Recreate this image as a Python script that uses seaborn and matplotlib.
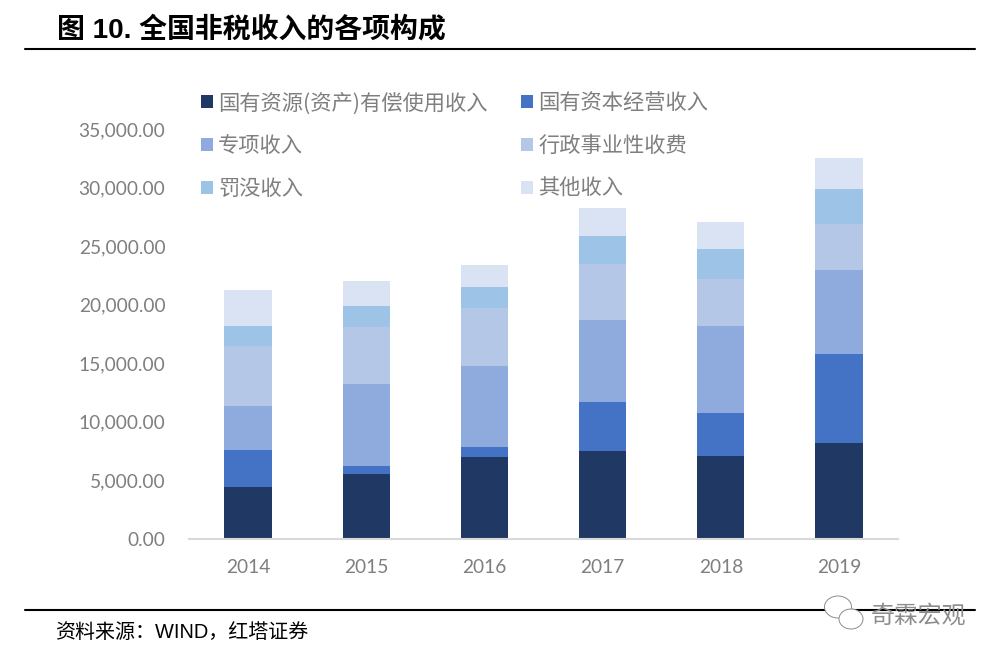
import matplotlib
matplotlib.use("Agg")
import matplotlib.pyplot as plt
import seaborn as sns
import pandas as pd
from matplotlib.lines import Line2D
from matplotlib.patches import Patch, Ellipse

years = ["2014", "2015", "2016", "2017", "2018", "2019"]
series_names = ["国有资源(资产)有偿使用收入", "国有资本经营收入", "专项收入", "行政事业性收费", "罚没收入", "其他收入"]
state_resources = [4360, 5510, 6970, 7480, 7050, 8160]
state_capital = [3200, 690, 850, 4190, 3680, 7610]
special = [3760, 7000, 6920, 7010, 7430, 7180]
admin_fees = [5130, 4880, 4960, 4780, 4020, 3930]
fines = [1710, 1790, 1800, 2390, 2560, 2990]
other = [3080, 2130, 1880, 2400, 2310, 2650]
series_values = [state_resources, state_capital, special, admin_fees, fines, other]
colors = ["#1F3864", "#4472C4", "#8FAADC", "#B4C7E7", "#9DC3E6", "#DAE3F3"]

W, H = 998, 659
sns.set_theme(style="white")
plt.rcParams["font.family"] = ["Noto Sans CJK SC", "DejaVu Sans"]
GREY = "#7F7F7F"

fig = plt.figure(figsize=(W / 100, H / 100), dpi=100)
ax = fig.add_axes([189 / W, 1 - 538.5 / H, (898 - 189) / W, (538.5 - 129) / H])

df = pd.DataFrame({"year": years})
bottom = [0] * len(years)
for name, vals, col in zip(series_names, series_values, colors):
    df[name] = vals
    sns.barplot(data=df, x="year", y=name, color=col, width=0.4, bottom=bottom,
                saturation=1, ax=ax, linewidth=0)
    bottom = [b + v for b, v in zip(bottom, vals)]

ax.set_xlim(-0.5, 5.5)
ax.set_ylim(0, 35000)
ax.set_yticks(range(0, 35001, 5000))
ax.set_yticklabels([f"{v:,.2f}" for v in range(0, 35001, 5000)])
ax.set_xlabel("")
ax.set_ylabel("")
for s in ["top", "left", "right"]:
    ax.spines[s].set_visible(False)
ax.spines["bottom"].set_color("#D9D9D9")
ax.spines["bottom"].set_linewidth(1.5)
ax.grid(False)
ax.tick_params(axis="both", length=0, labelsize=13.8, labelcolor=GREY)
ax.tick_params(axis="x", pad=15)
ax.tick_params(axis="y", pad=17)
for lab in ax.get_xticklabels() + ax.get_yticklabels():
    lab.set_fontfamily(["Lato", "DejaVu Sans"])

# legend: two columns, reading left to right
order = [0, 2, 4, 1, 3, 5]
handles = [Patch(facecolor=colors[i], edgecolor="none") for i in order]
labels = [series_names[i] for i in order]
leg = fig.legend(handles, labels, ncol=2, frameon=False, fontsize=15.3,
                 loc="upper left", bbox_to_anchor=(201 / W, 1 - 92 / H),
                 handlelength=0.55, handleheight=0.55, handletextpad=0.25,
                 columnspacing=1.58, labelspacing=0.98, labelcolor=GREY,
                 borderpad=0, borderaxespad=0)

# header, footer, rules
fonts = ["Liberation Sans", "Noto Sans CJK SC"]
fig.text(57 / W, 1 - 30 / H, "图 10. 全国非税收入的各项构成", family=fonts, fontweight="bold",
         fontsize=20.1, color="black", va="center", ha="left")
fig.add_artist(Line2D([25 / W, 975 / W], [1 - 49 / H] * 2, color="black", lw=1.5))
fig.add_artist(Line2D([25 / W, 975 / W], [1 - 610 / H] * 2, color="black", lw=1.5))
fig.text(55 / W, 1 - 632.5 / H, "资料来源：WIND，红塔证券", family=fonts,
         fontsize=14.4, color="black", va="center", ha="left")

# watermark
for cx, cy, w, h in [(838, 607, 27, 22), (851, 619, 24, 20)]:
    fig.add_artist(Ellipse((cx / W, 1 - cy / H), w / W, h / H, transform=fig.transFigure,
                           facecolor="white", edgecolor="#8C8C8C", lw=0.7, zorder=5))
fig.text(871 / W, 1 - 616 / H, "奇霖宏观", fontsize=17.2, color="#8C8C8C", va="center", ha="left", zorder=6)

fig.savefig("out.png", dpi=100)
